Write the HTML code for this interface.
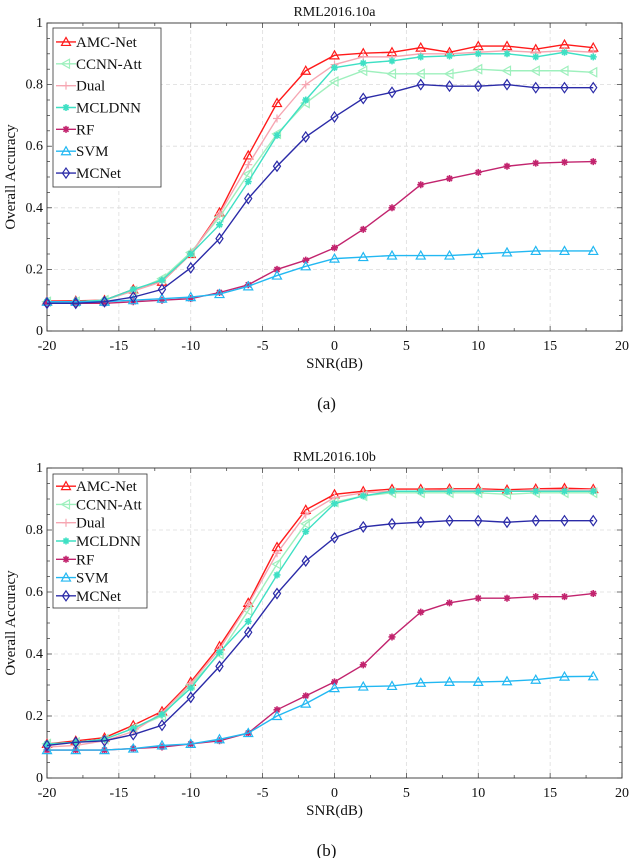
<!DOCTYPE html>
<html><head><meta charset="utf-8">
<style>
html,body{margin:0;padding:0;background:#fff;}
svg{display:block;font-family:"Liberation Serif",serif;}
</style></head>
<body>
<svg id="svg" width="632" height="858" viewBox="0 0 632 858" xmlns="http://www.w3.org/2000/svg"></svg>
<script>
const snr = [-20,-18,-16,-14,-12,-10,-8,-6,-4,-2,0,2,4,6,8,10,12,14,16,18];
const xTicks = [-20,-15,-10,-5,0,5,10,15,20];
const yTicks = [0,0.2,0.4,0.6,0.8,1];
const yTickLabels = ["0","0.2","0.4","0.6","0.8","1"];
const seriesNames = ["AMC-Net","CCNN-Att","Dual","MCLDNN","RF","SVM","MCNet"];
const a_amc = [.097,.098,.10,.135,.16,.25,.385,.57,.74,.845,.895,.902,.905,.92,.905,.925,.925,.915,.93,.92];
const a_ccnn = [.095,.095,.10,.13,.17,.255,.37,.51,.64,.74,.81,.845,.835,.835,.835,.85,.845,.845,.845,.84];
const a_dual = [.095,.095,.10,.13,.16,.25,.38,.54,.69,.80,.865,.89,.89,.90,.90,.905,.91,.905,.91,.905];
const a_mcldnn = [.095,.095,.10,.135,.165,.25,.345,.485,.635,.75,.855,.87,.877,.89,.893,.90,.90,.89,.905,.89];
const a_rf = [.09,.09,.09,.095,.10,.105,.125,.15,.20,.23,.27,.33,.40,.475,.495,.515,.535,.545,.548,.55];
const a_svm = [.095,.095,.095,.10,.105,.11,.12,.145,.18,.21,.235,.24,.245,.245,.245,.25,.255,.26,.26,.26];
const a_mcnet = [.09,.09,.095,.11,.135,.205,.30,.43,.535,.63,.695,.755,.775,.80,.795,.795,.80,.79,.79,.79];
const b_amc = [.11,.12,.13,.17,.215,.31,.425,.565,.745,.865,.915,.925,.932,.932,.933,.933,.93,.933,.935,.932];
const b_ccnn = [.11,.115,.125,.16,.20,.30,.40,.54,.69,.82,.89,.91,.92,.92,.92,.92,.915,.92,.92,.92];
const b_dual = [.10,.105,.12,.15,.21,.305,.415,.56,.725,.85,.905,.92,.925,.925,.93,.93,.925,.93,.93,.93];
const b_mcldnn = [.11,.115,.125,.16,.205,.29,.405,.505,.655,.795,.885,.91,.925,.925,.925,.925,.925,.925,.925,.925];
const b_rf = [.09,.09,.09,.095,.10,.11,.12,.145,.22,.265,.31,.365,.455,.535,.565,.58,.58,.585,.585,.595];
const b_svm = [.09,.09,.09,.095,.105,.11,.125,.145,.20,.24,.29,.295,.297,.307,.31,.31,.312,.317,.327,.328];
const b_mcnet = [.105,.115,.12,.14,.17,.26,.36,.47,.595,.70,.775,.81,.82,.825,.83,.83,.825,.83,.83,.83];

const colors = ["#ff1a1a","#9ef0bd","#f6a6b2","#3ee0c4","#c2246e","#22b8f2","#2b2ba8"];
const markers = ["tri","ltri","plus","star","star","tri","diamond"];
const NS = "http://www.w3.org/2000/svg";
const svg = document.getElementById("svg");
function el(tag, attrs, parent){const e=document.createElementNS(NS,tag);for(const k in attrs)e.setAttribute(k,attrs[k]);(parent||svg).appendChild(e);return e;}

function marker(type,x,y,c,g){
  let m;
  if(type==="tri") m=el("path",{d:`M${x},${y-4.5}L${x+4.5},${y+3.5}L${x-4.5},${y+3.5}Z`,fill:"none",stroke:c,"stroke-width":1.2},g);
  else if(type==="ltri") m=el("path",{d:`M${x-4.5},${y}L${x+3.5},${y-4.5}L${x+3.5},${y+4.5}Z`,fill:"none",stroke:c,"stroke-width":1.2},g);
  else if(type==="plus") m=el("path",{d:`M${x-4},${y}H${x+4}M${x},${y-4}V${y+4}`,stroke:c,"stroke-width":1.2},g);
  else if(type==="star") m=el("path",{d:`M${x-3.5},${y}H${x+3.5}M${x},${y-3.5}V${y+3.5}M${x-2.5},${y-2.5}L${x+2.5},${y+2.5}M${x-2.5},${y+2.5}L${x+2.5},${y-2.5}`,stroke:c,"stroke-width":1.6},g);
  else m=el("path",{d:`M${x},${y-5}L${x+3.5},${y}L${x},${y+5}L${x-3.5},${y}Z`,fill:"none",stroke:c,"stroke-width":1.2},g);
  
  
}

function chart(id, top, bottom, title, label, data, legendBox){
  const L=47, R=622;
  const g=el("g",{});
  
  
  const xs=v=>L+(v+20)/40*(R-L);
  const ys=v=>bottom-v*(bottom-top);
  xTicks.forEach(t=>{ if(t>-20&&t<20){const l=el("line",{x1:xs(t),x2:xs(t),y1:top,y2:bottom,stroke:"#dcdcdc","stroke-dasharray":"4,3","stroke-width":0.8},g);}});
  yTicks.forEach(t=>{ if(t>0&&t<1){const l=el("line",{x1:L,x2:R,y1:ys(t),y2:ys(t),stroke:"#dcdcdc","stroke-dasharray":"4,3","stroke-width":0.8},g);}});
  for(let v=-20;v<=20;v+=2.5){const x=xs(v);el("line",{x1:x,x2:x,y1:bottom,y2:bottom-(v%5===0?5:3),stroke:"#333","stroke-width":0.7},g);el("line",{x1:x,x2:x,y1:top,y2:top+(v%5===0?5:3),stroke:"#333","stroke-width":0.7},g);}
  for(let v=0;v<=1.0001;v+=0.05){const y=ys(v);const mj=Math.abs(v*5-Math.round(v*5))<1e-6;el("line",{x1:L,x2:L+(mj?5:3),y1:y,y2:y,stroke:"#333","stroke-width":0.7},g);el("line",{x1:R,x2:R-(mj?5:3),y1:y,y2:y,stroke:"#333","stroke-width":0.7},g);}
  const fr=el("rect",{x:L,y:top,width:R-L,height:bottom-top,fill:"none",stroke:"#333","stroke-width":0.9},g);
  
  xTicks.forEach(t=>{const tx=el("text",{x:xs(t),y:bottom+19,"font-size":14,"text-anchor":"middle",fill:"#111"},g);tx.textContent=String(t);});
  yTicks.forEach((t,i)=>{const tx=el("text",{x:L-4,y:ys(t)+4,"font-size":14,"text-anchor":"end",fill:"#111"},g);tx.textContent=yTickLabels[i];});
  const tt=el("text",{x:(L+R)/2,y:top-7,"font-size":14,"text-anchor":"middle",fill:"#111"},g);tt.textContent=title;
  const xl=el("text",{x:(L+R)/2,y:bottom+37,"font-size":15,"text-anchor":"middle",fill:"#111"},g);xl.textContent="SNR(dB)";
  const yl=el("text",{x:0,y:0,"font-size":15,"text-anchor":"middle",fill:"#111",transform:`translate(15,${(top+bottom)/2}) rotate(-90)`},g);yl.textContent="Overall Accuracy";
  const sl=el("text",{x:(L+R)/2-8,y:bottom+78,"font-size":17,"text-anchor":"middle",fill:"#111"},g);sl.textContent=label;
  data.forEach((vals,si)=>{
    const sg=el("g",{},g);
    
    
    const pts=snr.map((s,i)=>xs(s)+","+ys(vals[i])).join(" ");
    const pl=el("polyline",{points:pts,fill:"none",stroke:colors[si],"stroke-width":1.4},sg);
    
    snr.forEach((s,i)=>marker(markers[si],xs(s),ys(vals[i]),colors[si],sg));
  });
  const [lx,ly,lw,lh]=legendBox;
  const lg=el("g",{},g);
  
  el("rect",{x:lx,y:ly,width:lw,height:lh,fill:"#fff",stroke:"#333","stroke-width":0.8},lg);
  const step=(lh-6)/7;
  seriesNames.forEach((n,i)=>{
    const y=ly+3+step*(i+0.5);
    const le=el("g",{},lg);
    
    el("line",{x1:lx+3,x2:lx+23,y1:y,y2:y,stroke:colors[i],"stroke-width":1.4},le);
    marker(markers[i],lx+13,y,colors[i],le);
    const t=el("text",{x:lx+23,y:y+5,"font-size":15,fill:"#111"},le);t.textContent=n;
  });
}
chart("chart-rml2016-10a",23,331,"RML2016.10a","(a)",[a_amc,a_ccnn,a_dual,a_mcldnn,a_rf,a_svm,a_mcnet],[53,28,108,159]);
chart("chart-rml2016-10b",468,778,"RML2016.10b","(b)",[b_amc,b_ccnn,b_dual,b_mcldnn,b_rf,b_svm,b_mcnet],[53,474,94,134]);
</script>
</body></html>
